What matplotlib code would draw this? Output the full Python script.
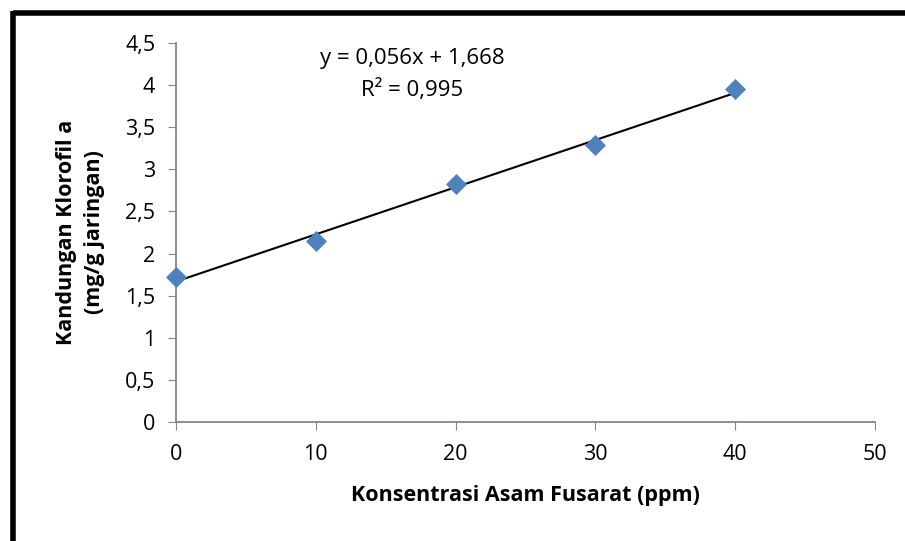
import numpy as np
import matplotlib
matplotlib.use("Agg")
import matplotlib.pyplot as plt
from matplotlib.lines import Line2D

# data
konsentrasi = [0, 10, 20, 30, 40]
klorofil_a = [1.72, 2.15, 2.83, 3.29, 3.95]
x_ticks = [0, 10, 20, 30, 40, 50]
y_ticks = [0, 0.5, 1, 1.5, 2, 2.5, 3, 3.5, 4, 4.5]
y_tick_labels = ["0", "0,5", "1", "1,5", "2", "2,5", "3", "3,5", "4", "4,5"]

plt.rcParams['font.family'] = ['Open Sans', 'DejaVu Sans']

fig = plt.figure(figsize=(9.05, 5.41), dpi=100)
ax = fig.add_axes([0.1945, 0.22, 0.7724, 0.7005])

# linear trendline
slope, intercept = np.polyfit(konsentrasi, klorofil_a, 1)
xf = np.array([min(konsentrasi), max(konsentrasi)])
ax.plot(xf, slope * xf + intercept, color="black", lw=1.5, zorder=2)

ax.scatter(konsentrasi, klorofil_a, marker="D", s=115, color="#4F81BD",
           linewidths=0, zorder=3, clip_on=False)

ax.set_xlim(0, 50)
ax.set_ylim(0, 4.5)
ax.set_xticks(x_ticks)
ax.set_yticks(y_ticks)
ax.set_yticklabels(y_tick_labels)
ax.tick_params(direction="out", length=6, color="#868686", labelsize=15.5)
ax.tick_params(axis="x", pad=10)
ax.tick_params(axis="y", pad=9)

for s in ["top", "right"]:
    ax.spines[s].set_visible(False)
for s in ["left", "bottom"]:
    ax.spines[s].set_color("#868686")
    ax.spines[s].set_linewidth(1.3)

ax.set_xlabel("Konsentrasi Asam Fusarat (ppm)", fontsize=15.5, fontweight="bold", labelpad=14)
ax.set_ylabel("Kandungan Klorofil a\n(mg/g jaringan)", fontsize=15.5, fontweight="bold",
              labelpad=14, linespacing=1.45)

# r squared
pred = slope * np.array(konsentrasi) + intercept
res = np.sum((np.array(klorofil_a) - pred) ** 2)
tot = np.sum((np.array(klorofil_a) - np.mean(klorofil_a)) ** 2)
r2 = 1 - res / tot
eq = "y = {:.3f}x + {:.3f}".format(slope, intercept).replace(".", ",")
ax.text(0.338, 0.96, eq, transform=ax.transAxes, ha="center", va="center", fontsize=16)
ax.text(0.338, 0.875, "R² = {:.3f}".format(r2).replace(".", ","), transform=ax.transAxes,
        ha="center", va="center", fontsize=16)

# black frame on top and left edge
fig.add_artist(Line2D([13 / 905, 1.0], [1 - 13 / 541, 1 - 13 / 541], color="black", lw=4,
                      transform=fig.transFigure, solid_capstyle="butt"))
fig.add_artist(Line2D([13 / 905, 13 / 905], [0, 1 - 11 / 541], color="black", lw=4,
                      transform=fig.transFigure, solid_capstyle="butt"))

fig.savefig("out.png", dpi=100)
